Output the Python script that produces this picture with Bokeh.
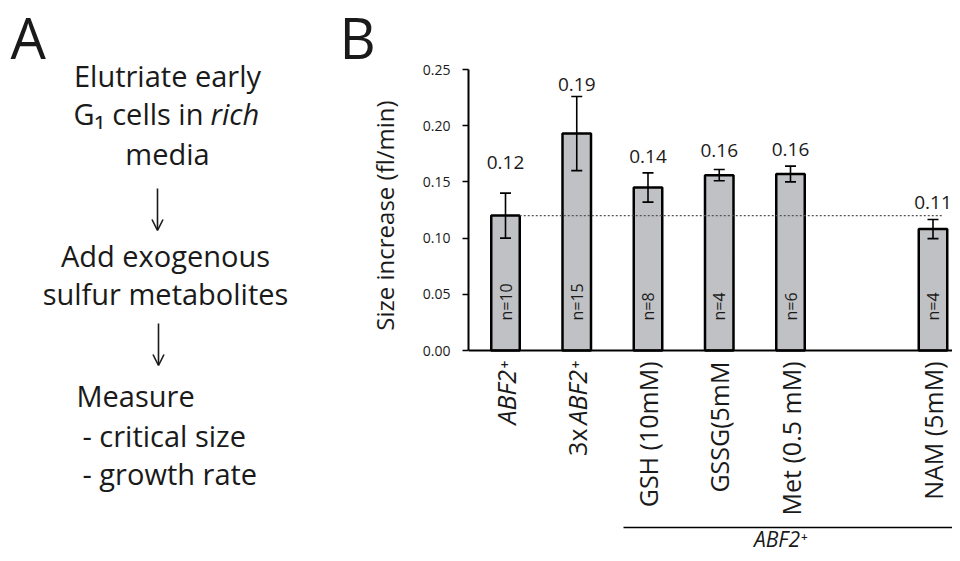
from math import pi
from bokeh.plotting import figure
from bokeh.layouts import row
from bokeh.models import (ColumnDataSource, Label, Arrow, OpenHead, Whisker, TeeHead,
                          FixedTicker, Range1d, NumeralTickFormatter)
from bokeh.core.properties import value
from bokeh.embed import file_html
from bokeh.resources import INLINE

# ---------------- data ----------------
tick_upright = ["", "3x", "GSH (10mM)", "GSSG(5mM", "Met (0.5 mM)", "NAM (5mM)"]
tick_italic = ["ABF2\u207a", "ABF2\u207a", "", "", "", ""]
positions = [0, 1, 2, 3, 4, 6]
means = [0.120, 0.193, 0.145, 0.156, 0.157, 0.108]
sems = [0.020, 0.033, 0.013, 0.005, 0.007, 0.0085]
value_labels = ["0.12", "0.19", "0.14", "0.16", "0.16", "0.11"]
n_labels = ["n=10", "n=15", "n=8", "n=4", "n=6", "n=4"]
reference_value = 0.12
y_ticks = [0.00, 0.05, 0.10, 0.15, 0.20, 0.25]
group_label = "ABF2\u207a"
y_axis_label = "Size increase (fl/min)"

FONT = "Open Sans"
INK = "#1a1a1a"
TOTAL_H = 553
SPLIT_X = 410          # page x where the bar-chart figure starts
TOTAL_W = 952
MID = 0.43             # baseline -> text middle, in em

# ================= panel A + letters + y title (data units == pixels) =================
a = figure(width=SPLIT_X, height=TOTAL_H, x_range=Range1d(0, SPLIT_X),
           y_range=Range1d(TOTAL_H, 0), x_axis_type=None, y_axis_type=None,
           title=None, output_backend="svg", toolbar_location=None,
           min_border_left=0, min_border_right=0, min_border_top=0,
           min_border_bottom=0)
a.outline_line_color = None
a.grid.visible = False


def note(fig, text, x, base_y, size=29, align="left", style="normal"):
    """Place text so that its baseline sits at page y = base_y."""
    fig.add_layout(Label(x=x, y=base_y - MID * size, text=text, text_align=align,
                         text_baseline="middle", text_font=FONT,
                         text_font_size=f"{size}px", text_font_style=style,
                         text_color=INK))


note(a, "A", 10, 61, size=56)
note(a, "B", 339, 61, size=56)
note(a, "Elutriate early", 167, 87, align="center")
note(a, "G\u2081 cells in ", 73, 125)
note(a, "rich", 210, 125, style="italic")
note(a, "media", 167, 165, align="center")
note(a, "Add exogenous", 165, 267, align="center")
note(a, "sulfur metabolites", 165, 305, align="center")
note(a, "Measure", 76, 407)
note(a, "- critical size", 82, 447)
note(a, "- growth rate", 82, 485)
a.add_layout(Label(x=384, y=215, text=y_axis_label, angle=pi / 2, text_align="center",
                   text_baseline="middle", text_font=FONT, text_font_size="24px",
                   text_color=INK))

for x, y0, y1 in [(157, 188, 230), (158, 323, 365)]:
    a.add_layout(Arrow(x_start=x, x_end=x, y_start=y0, y_end=y1,
                       line_width=1.6, line_color=INK,
                       end=OpenHead(size=11, line_width=1.6, line_color=INK)))

# ================= panel B (bar chart) =================
PX0, PXU = 505.0, 71.25          # page x of x=0, px per unit
PY0, PYU = 350.0, 281.0 / 0.25   # page y of y=0, px per unit


def px(x):
    return (x - PX0) / PXU


def py(y):
    return (PY0 - y) / PYU


VAL_SIZE = 19
label_pad_px = [22, 4, 8, 11, 8, 9]
lower = [m - e for m, e in zip(means, sems)]
upper = [m + e for m, e in zip(means, sems)]
label_y = [u + (pad + MID * VAL_SIZE) / PYU for u, pad in zip(upper, label_pad_px)]

src = ColumnDataSource(dict(x=positions, top=means, lower=lower, upper=upper,
                            vlabel=value_labels, nlabel=n_labels, label_y=label_y))

FRAME_L = 468
b = figure(width=TOTAL_W - SPLIT_X, height=TOTAL_H,
           x_range=Range1d(px(FRAME_L), px(TOTAL_W)),
           y_range=Range1d(py(TOTAL_H), py(0)), title=None, output_backend="svg",
           toolbar_location=None, min_border_left=FRAME_L - SPLIT_X,
           min_border_right=0, min_border_top=0, min_border_bottom=0)
b.outline_line_color = None
b.grid.visible = False

# bars
b.vbar(x="x", top="top", bottom=0, width=0.4, source=src, fill_color="#c0c1c4",
       line_color="black", line_width=2.5)

# reference dotted line
b.segment(x0=[positions[0] + 0.2], x1=[positions[-1] + 0.15],
          y0=[reference_value], y1=[reference_value],
          line_color="#555555", line_width=1.2, line_dash="2 2")

# error bars
b.add_layout(Whisker(base="x", lower="lower", upper="upper", source=src,
                     line_color="black", line_width=1.6, level="annotation",
                     upper_head=TeeHead(size=11, line_width=1.6, line_color="black"),
                     lower_head=TeeHead(size=11, line_width=1.6, line_color="black")))

# value labels
b.text(x="x", y="label_y", text="vlabel", source=src, text_align="center",
       text_baseline="middle", text_font=value(FONT), text_font_size=f"{VAL_SIZE}px",
       text_color=INK)

# n labels inside bars
b.text(x="x", y=py(320), text="nlabel", source=src, angle=pi / 2,
       text_align="left", text_baseline="middle", text_font=value(FONT),
       text_font_size="16px", text_color=INK)

# y axis
b.yaxis.ticker = FixedTicker(ticks=y_ticks)
b.yaxis.bounds = (0, 0.25)
b.yaxis.formatter = NumeralTickFormatter(format="0.00")
b.yaxis.major_label_text_font = FONT
b.yaxis.major_label_text_font_size = "14px"
b.yaxis.major_label_text_color = INK
b.yaxis.major_label_standoff = 12
b.yaxis.axis_line_width = 2
b.yaxis.major_tick_line_width = 1.6
b.yaxis.major_tick_out = 6
b.yaxis.major_tick_in = 0
b.yaxis.minor_tick_line_color = None

# x axis (baseline at y = 0)
b.xaxis.fixed_location = 0
b.xaxis.ticker = FixedTicker(ticks=[])
b.xaxis.axis_line_width = 2
b.xaxis.major_tick_line_color = None
b.xaxis.minor_tick_line_color = None
b.xaxis.major_label_text_font_size = "0px"

# x category labels (rotated)
LABEL_TOP = 361
for pos, up, it in zip(positions, tick_upright, tick_italic):
    top = LABEL_TOP
    if it:
        b.add_layout(Label(x=pos, y=py(top), text=it, angle=pi / 2, text_align="right",
                           text_baseline="middle", text_font=FONT, text_font_size="25px",
                           text_font_style="italic", text_color=INK))
        top += 67
    if up:
        b.add_layout(Label(x=pos, y=py(top), text=up, angle=pi / 2, text_align="right",
                           text_baseline="middle", text_font=FONT, text_font_size="25px",
                           text_color=INK))

# group underline + label
GROUP_SIZE = 21
b.segment(x0=[px(623)], x1=[px(960)], y0=[py(527)], y1=[py(527)],
          line_width=1.6, line_color="black")
b.add_layout(Label(x=px(780), y=py(548 - MID * GROUP_SIZE), text=group_label,
                   text_align="center", text_baseline="middle", text_font=FONT,
                   text_font_size=f"{GROUP_SIZE}px", text_font_style="italic",
                   text_color=INK))

layout = row(a, b, spacing=0)
open("out.html", "w").write(file_html(layout, INLINE))
